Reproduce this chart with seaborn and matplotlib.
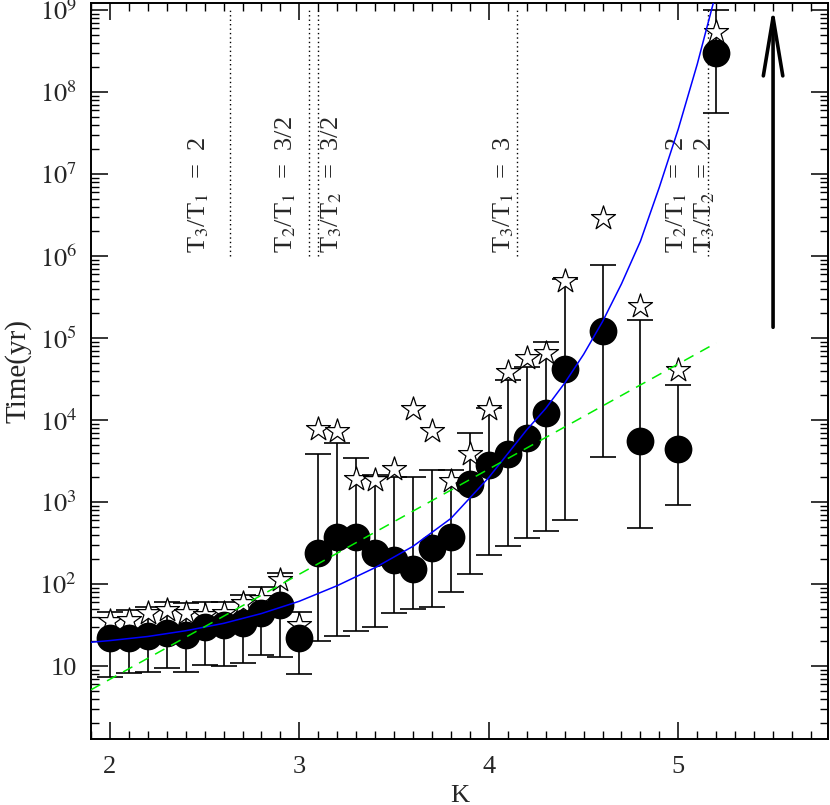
import numpy as np
import matplotlib
matplotlib.use('Agg')
import matplotlib.pyplot as plt
import matplotlib.ticker as mticker
import seaborn as sns

# circles (median time) with error bars, and open stars
K = [2.0, 2.1, 2.2, 2.3, 2.4, 2.5, 2.6, 2.7, 2.8, 2.9,
     3.0, 3.1, 3.2, 3.3, 3.4, 3.5, 3.6, 3.7, 3.8, 3.9,
     4.0, 4.1, 4.2, 4.3, 4.4, 4.6, 4.8, 5.0, 5.2]
t_mid = [22, 22, 23, 25, 24, 30, 32, 33, 44, 56,
         22, 237, 372, 372, 240, 195, 151, 272, 370, 1650,
         2800, 3800, 6100, 12000, 42000, 1.2e5, 5600, 4400, 3.0e8]
t_hi = [46, 48, 53, 61, 59, 61, 61, 74, 93, 136,
        46, 3850, 5300, 3400, 2140, 2000, 2000, 2450, 2450, 6900,
        14000, 31000, 44000, 90000, 5.3e5, 7.8e5, 1.66e5, 27000, 1.0e9]
t_lo = [7.4, 8.2, 8.5, 9.5, 8.5, 10.3, 10, 10.9, 13.6, 13,
        7.9, 20, 23, 27, 30, 44, 50, 53, 80, 131,
        224, 290, 360, 445, 610, 3550, 480, 920, 5.5e7]
t_star = [35, 36, 44, 48, 44, 42, 44, 59, 65, 112,
          32, 7700, 7300, 1900, 1860, 2500, 13800, 7400, 1780, 3850,
          13800, 38000, 57000, 66000, 4.9e5, 2.9e6, 2.45e5, 41000, 5.4e8]

# blue solid curve, points read along it
K_blue = [1.9, 2.0, 2.2, 2.4, 2.6, 2.8, 3.0, 3.2, 3.4, 3.6, 3.8,
          4.0, 4.2, 4.3, 4.4, 4.5, 4.6, 4.7, 4.8, 4.9, 5.0, 5.1, 5.2]
logt_blue = [1.29, 1.31, 1.36, 1.43, 1.52, 1.64, 1.79, 1.98, 2.20, 2.46, 2.80,
             3.30, 3.88, 4.14, 4.45, 4.80, 5.20, 5.66, 6.18, 6.84, 7.55, 8.34, 9.22]

# green dashed line (straight in log space)
K_green = [1.9, 5.2]
logt_green = [0.71, 4.94]

# resonance markers
res_x = [2.633, 3.052, 3.10, 4.15, 5.155]
res_labels = ['T$_3$/T$_1$  =  2', 'T$_2$/T$_1$  =  3/2', 'T$_3$/T$_2$  =  3/2',
              'T$_3$/T$_1$  =  3', 'T$_2$/T$_1$  =  2', 'T$_3$/T$_2$  =  2']
res_label_x = [2.47, 2.93, 3.17, 4.08, 4.99, 5.14]
ytick_vals = [1e1, 1e2, 1e3, 1e4, 1e5, 1e6, 1e7, 1e8, 1e9]

sns.set_style('ticks')
plt.rcParams['font.family'] = ['Liberation Serif', 'DejaVu Serif']
plt.rcParams['mathtext.fontset'] = 'stix'

fig = plt.figure(figsize=(8.3, 8.05), dpi=100)
ax = fig.add_axes([0.1096, 0.082, 0.888, 0.9143])

mid = np.array(t_mid)
ax.errorbar(K, mid, yerr=[mid - np.array(t_lo), np.array(t_hi) - mid],
            fmt='none', ecolor='k', elinewidth=1.2, capsize=9.5, capthick=1.2, zorder=2)

sns.scatterplot(x=K, y=t_star, marker='*', s=330, facecolor='white',
                edgecolor='k', linewidth=0.9, ax=ax, zorder=3)
sns.scatterplot(x=K, y=t_mid, marker='o', s=400, color='k',
                edgecolor='k', linewidth=0, ax=ax, zorder=4)

sns.lineplot(x=K_blue, y=10 ** np.array(logt_blue), color='#0000ff', lw=1.1,
             estimator=None, sort=False, ax=ax, zorder=5)
sns.lineplot(x=K_green, y=10 ** np.array(logt_green), color='#00ee00', lw=1.1,
             estimator=None, ax=ax, zorder=5)
ax.lines[-1].set_dashes([7, 5])

ax.vlines(res_x, 1e6, 1e9, colors='k', linestyles=(0, (1, 2.2)), lw=1, zorder=1)
for xl, lab in zip(res_label_x, res_labels):
    ax.text(xl, 1.1e6, lab, rotation=90, ha='center', va='bottom', fontsize=19)

ax.annotate('', xy=(5.5, 1.1e9), xytext=(5.5, 1.35e5),
            arrowprops=dict(arrowstyle='->,head_length=4.2,head_width=0.7', lw=2.6,
                            color='k', shrinkA=0, shrinkB=0, mutation_scale=10))

ax.set_yscale('log')
ax.set_xlim(1.9, 5.79)
ax.set_ylim(10 ** 0.11, 10 ** 9.085)

ax.xaxis.set_major_locator(mticker.MultipleLocator(1))
ax.xaxis.set_minor_locator(mticker.MultipleLocator(0.1))
ax.yaxis.set_major_locator(mticker.FixedLocator(ytick_vals))
ax.yaxis.set_minor_locator(mticker.LogLocator(base=10, subs=np.arange(2, 10), numticks=20))
ax.yaxis.set_minor_formatter(mticker.NullFormatter())


def _ylab(v, pos):
    e = int(round(np.log10(v)))
    return '10' if e == 1 else r'$10^{%d}$' % e


ax.yaxis.set_major_formatter(mticker.FuncFormatter(_ylab))

ax.tick_params(which='both', direction='in', top=True, right=True, color='k')
ax.tick_params(which='major', length=12.5, width=1.1, labelsize=19)
ax.tick_params(axis='x', which='major', pad=12)
ax.tick_params(axis='y', which='major', pad=10)
ax.tick_params(which='minor', length=5.5, width=1.0)
for sp in ax.spines.values():
    sp.set_linewidth(1.4)
    sp.set_color('k')

ax.set_xlabel('K', fontsize=19, labelpad=5)
ax.set_ylabel('Time(yr)', fontsize=21, labelpad=6)

fig.savefig('out.png', dpi=100)
